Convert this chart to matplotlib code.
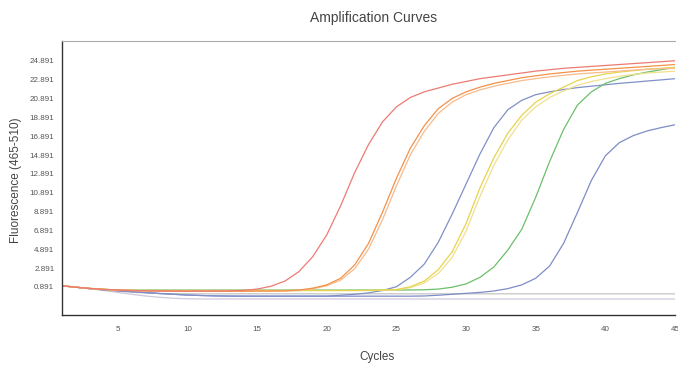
import numpy as np
import matplotlib
matplotlib.use("Agg")
import matplotlib.pyplot as plt

# narrow-ish sans, closest to the instrument software font
plt.rcParams['font.family'] = ['Liberation Sans', 'DejaVu Sans']

cycles = list(range(1, 46))

# fluorescence per cycle
red = [1.0, 0.85, 0.72, 0.62, 0.55, 0.5, 0.47, 0.45, 0.44, 0.43,
       0.43, 0.44, 0.46, 0.52, 0.65, 0.95, 1.5, 2.5, 4.1, 6.4,
       9.5, 13.0, 16.0, 18.4, 20.0, 21.0, 21.6, 22.0, 22.4, 22.7,
       23.0, 23.2, 23.4, 23.6, 23.8, 23.95, 24.1, 24.2, 24.3, 24.4,
       24.5, 24.6, 24.7, 24.8, 24.9]
orange1 = [1.0, 0.85, 0.72, 0.62, 0.55, 0.5, 0.47, 0.45, 0.44, 0.43,
           0.43, 0.43, 0.43, 0.43, 0.44, 0.45, 0.47, 0.55, 0.75, 1.1,
           1.8, 3.2, 5.5, 8.8, 12.4, 15.6, 18.0, 19.8, 20.9, 21.6,
           22.1, 22.5, 22.8, 23.1, 23.3, 23.5, 23.65, 23.8, 23.9, 24.0,
           24.1, 24.2, 24.3, 24.4, 24.5]
orange2 = [1.0, 0.85, 0.72, 0.62, 0.55, 0.5, 0.47, 0.45, 0.44, 0.43,
           0.43, 0.43, 0.43, 0.43, 0.43, 0.44, 0.45, 0.5, 0.68, 1.0,
           1.6, 2.8, 4.9, 8.0, 11.6, 14.9, 17.4, 19.3, 20.5, 21.3,
           21.8, 22.2, 22.5, 22.8, 23.0, 23.2, 23.35, 23.5, 23.6, 23.7,
           23.8, 23.9, 24.0, 24.05, 24.1]
blue1 = [1.0, 0.85, 0.7, 0.58, 0.48, 0.38, 0.28, 0.18, 0.1, 0.02,
         -0.03, -0.07, -0.09, -0.1, -0.1, -0.1, -0.1, -0.1, -0.1, -0.1,
         0.0, 0.1, 0.25, 0.5, 0.9, 1.9, 3.3, 5.6, 8.6, 11.8,
         15.0, 17.8, 19.7, 20.7, 21.3, 21.6, 21.85, 22.05, 22.2, 22.35,
         22.5, 22.62, 22.75, 22.87, 23.0]
yellow1 = [1.0, 0.85, 0.72, 0.62, 0.55, 0.52, 0.5, 0.5, 0.5, 0.5,
           0.5, 0.5, 0.5, 0.5, 0.5, 0.5, 0.5, 0.5, 0.5, 0.5,
           0.5, 0.5, 0.52, 0.55, 0.6, 0.9, 1.5, 2.7, 4.6, 7.6,
           11.4, 14.6, 17.2, 19.1, 20.5, 21.4, 22.1, 22.8, 23.2, 23.5,
           23.7, 23.85, 24.0, 24.1, 24.2]
yellow2 = [1.0, 0.85, 0.72, 0.62, 0.55, 0.52, 0.5, 0.5, 0.5, 0.5,
           0.5, 0.5, 0.5, 0.5, 0.5, 0.5, 0.5, 0.5, 0.5, 0.5,
           0.5, 0.5, 0.5, 0.52, 0.56, 0.8, 1.3, 2.3, 4.0, 6.8,
           10.5, 13.8, 16.5, 18.6, 20.0, 21.0, 21.7, 22.3, 22.7, 23.0,
           23.25, 23.45, 23.6, 23.7, 23.8]
green = [1.0, 0.85, 0.72, 0.63, 0.57, 0.55, 0.55, 0.55, 0.55, 0.55,
         0.55, 0.55, 0.55, 0.55, 0.55, 0.55, 0.55, 0.55, 0.55, 0.55,
         0.55, 0.55, 0.55, 0.55, 0.55, 0.56, 0.58, 0.65, 0.85, 1.2,
         1.9, 3.0, 4.8, 7.0, 10.4, 14.2, 17.6, 20.2, 21.6, 22.5,
         23.0, 23.4, 23.7, 23.95, 24.2]
blue2 = [1.0, 0.85, 0.7, 0.58, 0.48, 0.38, 0.28, 0.18, 0.1, 0.02,
         -0.03, -0.07, -0.09, -0.1, -0.1, -0.1, -0.1, -0.1, -0.1, -0.1,
         -0.1, -0.1, -0.1, -0.1, -0.1, -0.1, -0.08, 0.0, 0.1, 0.2,
         0.3, 0.45, 0.7, 1.1, 1.8, 3.1, 5.5, 8.8, 12.2, 14.8,
         16.2, 16.95, 17.45, 17.8, 18.1]
gray1 = [1.0, 0.85, 0.7, 0.55, 0.42, 0.32, 0.24, 0.19, 0.16, 0.15,
         0.15, 0.15, 0.15, 0.15, 0.15, 0.15, 0.15, 0.15, 0.15, 0.15,
         0.15, 0.15, 0.15, 0.15, 0.15, 0.15, 0.15, 0.15, 0.15, 0.15,
         0.15, 0.15, 0.15, 0.15, 0.15, 0.15, 0.15, 0.15, 0.15, 0.15,
         0.15, 0.15, 0.15, 0.15, 0.15]
gray2 = [1.0, 0.85, 0.68, 0.5, 0.3, 0.1, -0.08, -0.22, -0.32, -0.38,
         -0.4, -0.4, -0.4, -0.4, -0.4, -0.4, -0.4, -0.4, -0.4, -0.4,
         -0.4, -0.4, -0.4, -0.4, -0.4, -0.4, -0.4, -0.4, -0.4, -0.4,
         -0.4, -0.4, -0.4, -0.4, -0.4, -0.4, -0.4, -0.4, -0.4, -0.4,
         -0.4, -0.4, -0.4, -0.4, -0.4]

curves = [
    (gray2, '#cfc8dc'),
    (gray1, '#c4c4c4'),
    (blue2, '#7e8cc6'),
    (blue1, '#8090c8'),
    (green, '#6cbf6a'),
    (yellow2, '#f0e08e'),
    (yellow1, '#e6d44c'),
    (orange2, '#f7bb8c'),
    (orange1, '#f4914a'),
    (red, '#ec7b72'),
]

ytick_vals = [0.891 + 2 * i for i in range(13)]
xtick_vals = [5, 10, 15, 20, 25, 30, 35, 40, 45]

fig = plt.figure(figsize=(6.78, 3.69), dpi=100, facecolor='white')
ax = fig.add_axes([62 / 678, 1 - 315 / 369, 613 / 678, 274 / 369])

for vals, col in curves:
    ax.plot(cycles, vals, color=col, lw=0.9, solid_joinstyle='round')

ax.set_xlim(1, 45)
ax.set_ylim(-2.1, 27.0)
ax.set_xticks(xtick_vals)
ax.set_yticks(ytick_vals)
ax.set_yticklabels(['%.3f' % v for v in ytick_vals])
ax.tick_params(length=0, labelsize=5.8, colors='#555555')
ax.tick_params(axis='x', pad=8)
ax.tick_params(axis='y', pad=5.5)

for s in ['left', 'bottom']:
    ax.spines[s].set_color('#333333')
    ax.spines[s].set_linewidth(1.0)
ax.spines['top'].set_color('#aaaaaa')
ax.spines['top'].set_linewidth(0.8)
ax.spines['right'].set_visible(False)

fig.text(374 / 678, 1 - 18 / 369, 'Amplification Curves', ha='center', va='center',
         fontsize=10, color='#444444')
fig.text(377 / 678, 1 - 357 / 369, 'Cycles', ha='center', va='center',
         fontsize=8.5, color='#444444')
fig.text(16 / 678, 1 - 180 / 369, 'Fluorescence (465-510)', ha='center', va='center',
         rotation=90, fontsize=8.5, color='#444444')

fig.savefig('out.png', dpi=100)
